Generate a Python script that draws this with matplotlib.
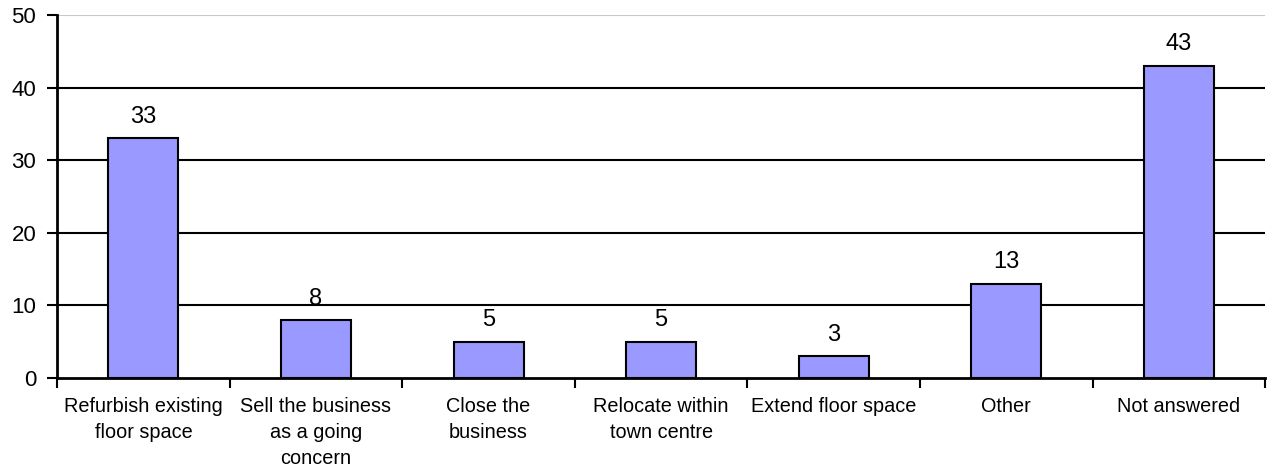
import matplotlib
matplotlib.use("Agg")
import matplotlib.pyplot as plt
import numpy as np

plt.rcParams['font.family'] = ['Liberation Sans', 'DejaVu Sans']

# survey responses: future plans for the premises
categories = [
    "Refurbish existing\nfloor space",
    "Sell the business\nas a going\nconcern",
    "Close the\nbusiness",
    "Relocate within\ntown centre",
    "Extend floor space",
    "Other",
    "Not answered",
]
counts = [33, 8, 5, 5, 3, 13, 43]
yticks = [0, 10, 20, 30, 40, 50]

fig = plt.figure(figsize=(12.69, 4.69), dpi=100)
ax = fig.add_axes([0.045, 0.194, 0.952, 0.774])

x = np.arange(len(categories))
ax.set_xlim(-0.5, len(categories) - 0.5)
ax.set_ylim(0, 50)

# horizontal gridlines, the top one lighter
for v in yticks[1:-1]:
    ax.axhline(v, color="black", lw=1.5, zorder=1)
ax.axhline(yticks[-1], color="#c8c8c8", lw=1.5, zorder=1)

bars = ax.bar(x, counts, width=0.405, color="#9999ff", edgecolor="black",
              linewidth=1.5, zorder=2)
for b, c in zip(bars, counts):
    ax.annotate(str(c), (b.get_x() + b.get_width() / 2, c),
                xytext=(0, 7.5), textcoords="offset points",
                ha="center", va="bottom", fontsize=17)

ax.set_yticks(yticks)
ax.tick_params(axis="y", labelsize=16, length=7, width=1.5, pad=8)

# category labels sit between the boundary ticks
ax.set_xticks(x)
ax.set_xticklabels(categories, fontsize=14.3, linespacing=1.45)
ax.tick_params(axis="x", which="major", length=0, pad=14)
ax.set_xticks(np.arange(len(categories) + 1) - 0.5, minor=True)
ax.tick_params(axis="x", which="minor", length=7, width=1.5, direction="out")

for s in ["top", "right"]:
    ax.spines[s].set_visible(False)
ax.spines["left"].set_linewidth(2)
ax.spines["bottom"].set_linewidth(2)

fig.savefig("out.png", dpi=100)
